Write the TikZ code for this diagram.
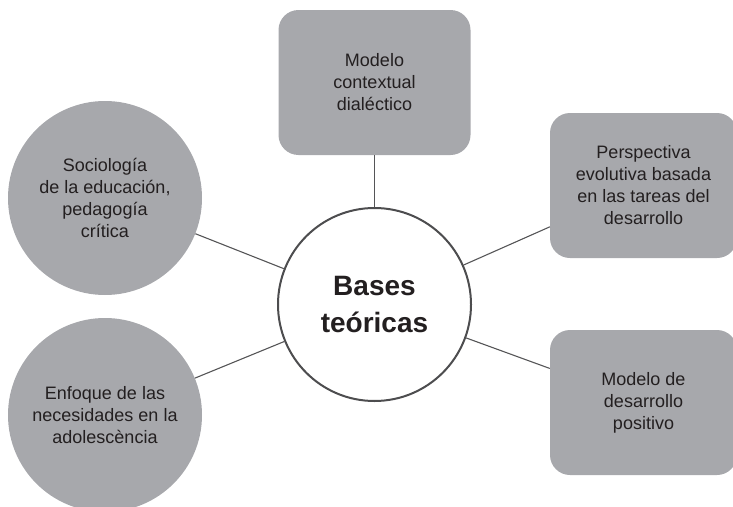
\documentclass[tikz,border=0pt]{standalone}
\usepackage{fontspec}
\setmainfont{Liberation Sans}
\definecolor{boxgray}{RGB}{167,168,172}
\definecolor{txtgray}{RGB}{35,31,32}
\definecolor{linegray}{RGB}{85,85,87}
\definecolor{ringgray}{RGB}{77,77,79}
\begin{document}
\begin{tikzpicture}[x=1pt,y=-1pt,
  lbl/.style={align=center,text=txtgray,font=\fontsize{18}{22}\selectfont},
  roundbox/.style={lbl,fill=boxgray,rounded corners=20pt,minimum width=#1,minimum height=145pt,inner sep=0pt},
  graycircle/.style={lbl,circle,fill=boxgray,minimum size=194pt,inner sep=0pt},
  hub/.style={circle,draw=ringgray,line width=2pt,fill=white,minimum size=193pt,inner sep=0pt,
    align=center,text=txtgray,font=\fontsize{28}{36}\selectfont\bfseries},
  link/.style={draw=linegray,line width=1.1pt}]
\useasboundingbox (0,0) rectangle (733,506);
\node[hub] (c) at (374.5,304.5) {Bases\\teóricas};
\node[roundbox=192pt] (t) at (374.5,82.5) {Modelo\\contextual\\dialéctico};
\node[roundbox=187pt] (rt) at (643.5,185.5) {Perspectiva\\evolutiva basada\\en las tareas del\\desarrollo};
\node[roundbox=187pt] (rb) at (643.5,402.5) {Modelo de\\desarrollo\\positivo};
\node[graycircle] (lt) at (105,198) {Sociología\\de la educación,\\pedagogía\\crítica};
\node[graycircle] (lb) at (105,415) {Enfoque de las\\necesidades en la\\adolescència};
\draw[link] (c) -- (t);
\draw[link] (c) -- (rt);
\draw[link] (c) -- (rb);
\draw[link] (c) -- (lt);
\draw[link] (c) -- (lb);
\end{tikzpicture}
\end{document}
